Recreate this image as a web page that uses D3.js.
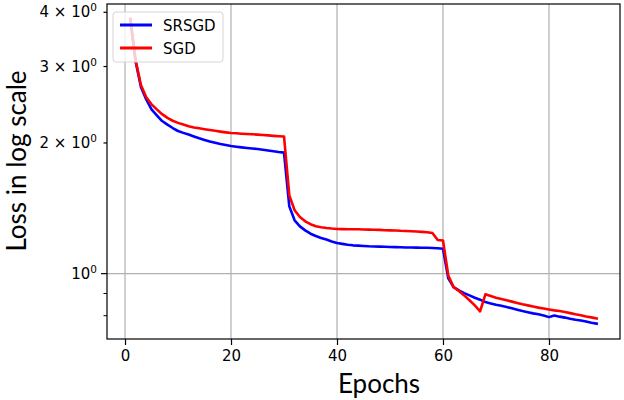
<!DOCTYPE html>
<html>
<head>
<meta charset="utf-8">
<script src="https://cdn.jsdelivr.net/npm/d3@7"></script>
<style>
    body { margin: 0; background: #fff; }
    #lossVis { width: 624px; height: 400px; }
    #lossVis svg { display: block; }
</style>
</head>
<body>
<div id="lossVis"><svg width="624" height="400"></svg></div>
<script>
const epochs = [1, 2, 3, 4, 5, 6, 7, 8, 9, 10, 11, 12, 13, 14, 15, 16, 17, 18, 19, 20,
    21, 22, 23, 24, 25, 26, 27, 28, 29, 30, 31, 32, 33, 34, 35, 36, 37, 38, 39, 40,
    41, 42, 43, 44, 45, 46, 47, 48, 49, 50, 51, 52, 53, 54, 55, 56, 57, 58, 59, 60,
    61, 62, 63, 64, 65, 66, 67, 68, 69, 70, 71, 72, 73, 74, 75, 76, 77, 78, 79, 80,
    81, 82, 83, 84, 85, 86, 87, 88, 89];

const srsgdLoss = [3.86, 3.08, 2.69, 2.52, 2.39, 2.316, 2.247, 2.204, 2.165, 2.131,
    2.110, 2.091, 2.070, 2.050, 2.032, 2.015, 2.002, 1.989, 1.978, 1.968,
    1.961, 1.954, 1.948, 1.942, 1.937, 1.930, 1.922, 1.914, 1.906, 1.900,
    1.429, 1.327, 1.285, 1.258, 1.236, 1.221, 1.208, 1.198, 1.186, 1.176,
    1.171, 1.166, 1.162, 1.160, 1.158, 1.156, 1.155, 1.154, 1.153, 1.152,
    1.151, 1.150, 1.149, 1.149, 1.148, 1.147, 1.147, 1.146, 1.144, 1.141,
    0.975, 0.931, 0.915, 0.902, 0.891, 0.880, 0.871, 0.860, 0.854, 0.848,
    0.843, 0.838, 0.832, 0.826, 0.820, 0.815, 0.810, 0.806, 0.801, 0.794,
    0.801, 0.796, 0.792, 0.787, 0.783, 0.780, 0.776, 0.771, 0.767];

const sgdLoss = [3.86, 3.10, 2.72, 2.55, 2.455, 2.39, 2.33, 2.285, 2.25, 2.225,
    2.205, 2.186, 2.172, 2.162, 2.152, 2.142, 2.133, 2.124, 2.116, 2.109,
    2.105, 2.101, 2.097, 2.094, 2.091, 2.087, 2.082, 2.077, 2.073, 2.070,
    1.515, 1.400, 1.350, 1.320, 1.300, 1.286, 1.279, 1.274, 1.270, 1.267,
    1.266, 1.265, 1.265, 1.265, 1.264, 1.263, 1.262, 1.261, 1.259, 1.258,
    1.257, 1.255, 1.254, 1.252, 1.250, 1.248, 1.245, 1.240, 1.195, 1.192,
    0.990, 0.931, 0.912, 0.891, 0.868, 0.845, 0.819, 0.896, 0.888, 0.880,
    0.874, 0.868, 0.862, 0.856, 0.850, 0.845, 0.840, 0.835, 0.831, 0.827,
    0.823, 0.820, 0.816, 0.811, 0.806, 0.802, 0.797, 0.793, 0.788];

const seriesNames = ["SRSGD", "SGD"];
const seriesColors = ["#0000ff", "#ff0000"];

const xTickValues = [0, 20, 40, 60, 80];
const yLabelTicks = [1, 2, 3, 4];
const yTickMantissa = ["", "2 \u00d7 ", "3 \u00d7 ", "4 \u00d7 "];
const yMinorTicks = [0.8, 0.9];
const yGridTicks = [1];

function createLossChart() {

    const margin = {top: 4, right: 4, bottom: 61, left: 107};
    const width = 624 - margin.left - margin.right;
    const height = 400 - margin.top - margin.bottom;

    const svg = d3.select("#lossVis svg")
        .append("g")
        .attr("transform", `translate(${margin.left},${margin.top})`);

    const x = d3.scaleLinear()
        .domain([-3.4, 93.4])
        .range([0, width]);

    const y = d3.scaleLog()
        .domain([0.707, 4.18])
        .range([height, 0]);

    const tickFont = "'DejaVu Sans', sans-serif";

    // grid
    svg.append("g")
        .selectAll("line")
        .data(xTickValues)
        .join("line")
        .attr("x1", d => x(d))
        .attr("x2", d => x(d))
        .attr("y1", 0)
        .attr("y2", height)
        .attr("stroke", "#b0b0b0")
        .attr("stroke-width", 1.2);

    svg.append("g")
        .selectAll("line")
        .data(yGridTicks)
        .join("line")
        .attr("x1", 0)
        .attr("x2", width)
        .attr("y1", d => y(d))
        .attr("y2", d => y(d))
        .attr("stroke", "#b0b0b0")
        .attr("stroke-width", 1.2);

    // curves
    const series = [
        {name: seriesNames[0], color: seriesColors[0], values: srsgdLoss},
        {name: seriesNames[1], color: seriesColors[1], values: sgdLoss}
    ];

    const line = d3.line()
        .x((d, i) => x(epochs[i]))
        .y(d => y(d));

    svg.append("g")
        .selectAll("path")
        .data(series)
        .join("path")
        .attr("d", d => line(d.values))
        .attr("fill", "none")
        .attr("stroke", d => d.color)
        .attr("stroke-width", 2.6)
        .attr("stroke-linejoin", "round")
        .attr("stroke-linecap", "square");

    // x axis ticks
    const xAxis = svg.append("g")
        .attr("transform", `translate(0,${height})`)
        .call(d3.axisBottom(x).tickValues(xTickValues).tickSize(6).tickPadding(5).tickFormat(d3.format("d")));
    xAxis.select(".domain").remove();
    xAxis.selectAll("line").attr("stroke", "#000").attr("stroke-width", 1.2);
    xAxis.selectAll("text")
        .style("font-family", tickFont)
        .style("font-size", "15px")
        .attr("fill", "#000");

    // y axis ticks (log)
    const yAxis = svg.append("g");
    yAxis.selectAll(".major")
        .data(yLabelTicks)
        .join("line")
        .attr("class", "major")
        .attr("x1", (d, i) => i === 0 ? -6 : -3.5)
        .attr("x2", 0)
        .attr("y1", d => y(d))
        .attr("y2", d => y(d))
        .attr("stroke", "#000")
        .attr("stroke-width", 1.2);

    yAxis.selectAll(".minor")
        .data(yMinorTicks)
        .join("line")
        .attr("class", "minor")
        .attr("x1", -3.5)
        .attr("x2", 0)
        .attr("y1", d => y(d))
        .attr("y2", d => y(d))
        .attr("stroke", "#000")
        .attr("stroke-width", 1);

    const yLabels = yAxis.selectAll(".ylab")
        .data(yLabelTicks)
        .join("text")
        .attr("class", "ylab")
        .attr("x", -10)
        .attr("y", d => y(d) + 5)
        .attr("text-anchor", "end")
        .style("font-family", tickFont)
        .style("font-size", "15px")
        .attr("fill", "#000");
    yLabels.append("tspan").text((d, i) => yTickMantissa[i] + "10");
    yLabels.append("tspan")
        .attr("dy", -6)
        .style("font-size", "10.5px")
        .text("0");

    // frame
    svg.append("rect")
        .attr("x", 0)
        .attr("y", 0)
        .attr("width", width)
        .attr("height", height)
        .attr("fill", "none")
        .attr("stroke", "#000")
        .attr("stroke-width", 1.2);

    // axis labels
    svg.append("text")
        .attr("text-anchor", "middle")
        .attr("x", 379 - margin.left)
        .attr("y", 393 - margin.top)
        .style("font-family", "Lato, sans-serif")
        .style("font-size", "26px")
        .attr("fill", "#000")
        .text("Epochs");

    svg.append("text")
        .attr("text-anchor", "middle")
        .attr("transform", "rotate(-90)")
        .attr("x", -(161 - margin.top))
        .attr("y", 26 - margin.left)
        .style("font-family", "Lato, sans-serif")
        .style("font-size", "26px")
        .attr("fill", "#000")
        .text("Loss in log scale");

    // legend
    const legend = svg.append("g")
        .attr("transform", "translate(6,8)");

    legend.append("rect")
        .attr("width", 110)
        .attr("height", 50)
        .attr("rx", 3)
        .attr("fill", "#fff")
        .attr("fill-opacity", 0.8)
        .attr("stroke", "#d5d5d5")
        .attr("stroke-width", 1);

    const item = legend.selectAll(".item")
        .data(series)
        .join("g")
        .attr("class", "item")
        .attr("transform", (d, i) => `translate(0,${13 + i * 23})`);

    item.append("line")
        .attr("x1", 7)
        .attr("x2", 39)
        .attr("stroke", d => d.color)
        .attr("stroke-width", 3);

    item.append("text")
        .attr("x", 50)
        .attr("y", 5.5)
        .style("font-family", tickFont)
        .style("font-size", "15px")
        .attr("fill", "#000")
        .text(d => d.name);
}

document.addEventListener('DOMContentLoaded', createLossChart);
</script>
</body>
</html>
